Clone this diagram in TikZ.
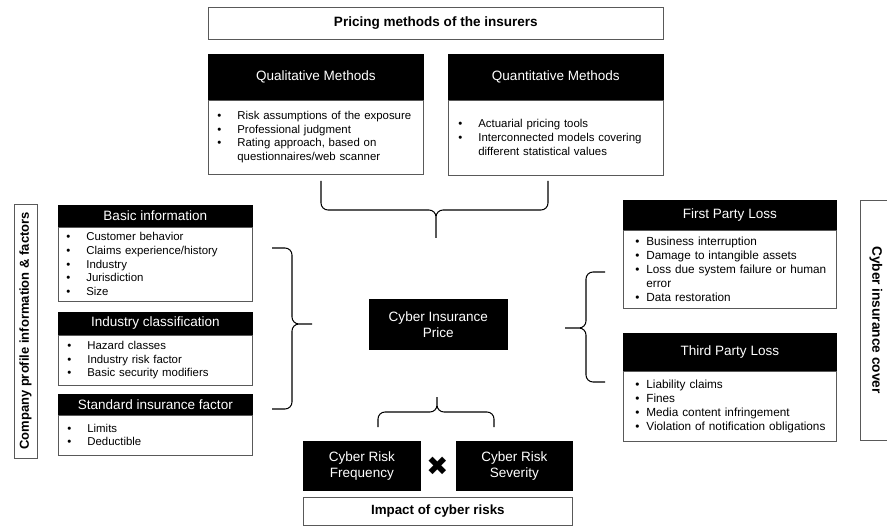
\documentclass[tikz,border=0pt]{standalone}
\usepackage{fontspec}
\setmainfont{Liberation Sans}
\newfontfamily\symfont{DejaVu Sans}
\usetikzlibrary{positioning}

\newdimen\pxu \pxu=0.02cm
\newlength\padl
\newlength\bw
\newcommand\itm{\hspace*{\padl}\makebox[\bw][l]{\textbullet}}
\newcommand\cnt{\hspace*{\padl}\hspace*{\bw}}
\newcommand\hdrfont{\fontsize{7.7}{9.2}\selectfont}
\newcommand\bodyfont{\fontsize{6.5}{7.8}\selectfont}

\begin{document}
\begin{tikzpicture}[
  x=0.02cm, y=-0.02cm,
  hdr/.style={rectangle, draw=black, fill=black, text=white, anchor=north west,
              inner sep=0pt, align=center, font=\hdrfont},
  lst/.style 2 args={rectangle, draw=black!65, fill=white, anchor=north west,
              inner sep=0pt, align=left, font=\bodyfont,
              execute at begin node={\setlength\padl{#1\pxu}\setlength\bw{#2\pxu}}},
  ttl/.style={rectangle, draw=black!65, anchor=north west, inner sep=0pt,
              font=\fontsize{7.7}{9}\selectfont\bfseries},
  side/.style={rectangle, draw=black!65, inner sep=0pt, font=\bfseries},
  brc/.style={draw=black, line width=0.6pt, rounded corners=4pt}
]
\useasboundingbox (0,0) rectangle (887,527);

% pricing methods
\node[ttl, minimum width=455\pxu, minimum height=32\pxu] (pricing) at (208,7)
  {Pricing methods of the insurers};
\node[hdr, minimum width=215\pxu, minimum height=45\pxu] (qualhd) at (208,54) {Qualitative Methods};
\node[lst={9}{20}, minimum width=215\pxu, text width=215\pxu, minimum height=74\pxu] (qualls)
  at (qualhd.south west)
  {\itm Risk assumptions of the exposure\\ \itm Professional judgment\\
   \itm Rating approach, based on\\ \cnt questionnaires/web scanner};
\node[hdr, minimum width=215\pxu, minimum height=45\pxu] (quanhd) at (448,54) {Quantitative Methods};
\node[lst={10}{20}, minimum width=215\pxu, text width=215\pxu, minimum height=75\pxu] (quanls)
  at (quanhd.south west)
  {\itm Actuarial pricing tools\\ \itm Interconnected models covering\\
   \cnt different statistical values};

% company profile
\node[side, rotate=90, minimum width=254\pxu, minimum height=23\pxu,
      font=\fontsize{7.4}{9}\selectfont\bfseries] (profile) at (25.5,331)
  {Company profile information \& factors};
\node[hdr, minimum width=194\pxu, minimum height=21\pxu] (basichd) at (58,205) {Basic information};
\node[lst={8}{20}, minimum width=194\pxu, text width=194\pxu, minimum height=74\pxu] (basicls)
  at (basichd.south west)
  {\itm Customer behavior\\ \itm Claims experience/history\\ \itm Industry\\
   \itm Jurisdiction\\ \itm Size};
\node[hdr, minimum width=194\pxu, minimum height=22\pxu] (indhd) at (58,312) {Industry classification};
\node[lst={9}{20}, minimum width=194\pxu, text width=194\pxu, minimum height=50\pxu] (indls)
  at (indhd.south west)
  {\itm Hazard classes\\ \itm Industry risk factor\\ \itm Basic security modifiers};
\node[hdr, minimum width=194\pxu, minimum height=20\pxu] (stdhd) at (58,394) {Standard insurance factor};
\node[lst={9}{20}, minimum width=194\pxu, text width=194\pxu, minimum height=40\pxu] (stdls)
  at (stdhd.south west)
  {\itm Limits\\ \itm Deductible};

% price
\node[hdr, minimum width=138\pxu, minimum height=50\pxu] (price) at (369,299)
  {Cyber Insurance\\Price};

% insurance cover
\node[hdr, minimum width=213\pxu, minimum height=29\pxu] (firsthd) at (623,200) {First Party Loss};
\node[lst={12}{11}, minimum width=213\pxu, text width=213\pxu, minimum height=78\pxu,
      font=\fontsize{6.7}{8}\selectfont] (firstls)
  at (firsthd.south west)
  {\itm Business interruption\\ \itm Damage to intangible assets\\
   \itm Loss due system failure or human\\ \cnt error\\ \itm Data restoration};
\node[hdr, minimum width=213\pxu, minimum height=37\pxu] (thirdhd) at (623,333) {Third Party Loss};
\node[lst={12}{11}, minimum width=213\pxu, text width=213\pxu, minimum height=70\pxu,
      font=\fontsize{6.7}{8}\selectfont] (thirdls)
  at (thirdhd.south west)
  {\itm Liability claims\\ \itm Fines\\ \itm Media content infringement\\
   \itm Violation of notification obligations};
\node[side, rotate=-90, minimum width=240\pxu, minimum height=32\pxu,
      font=\fontsize{7.8}{9}\selectfont\bfseries] (cover) at (876,320)
  {Cyber insurance cover};

% cyber risks
\node[hdr, minimum width=117\pxu, minimum height=49\pxu] (freq) at (303,441)
  {Cyber Risk\\Frequency};
\node[hdr, minimum width=116\pxu, minimum height=49\pxu] (sev) at (456,441)
  {Cyber Risk\\Severity};
\node[font=\symfont\fontsize{15}{15}\selectfont, inner sep=0pt] (times) at (437.5,466) {✖};
\node[ttl, minimum width=269\pxu, minimum height=28\pxu, font=\fontsize{7.6}{9}\selectfont\bfseries]
  (impact) at (303,497) {Impact of cyber risks};

% braces
\draw[brc] (321,181) |- (436,210) -- (436,238)
           (548,181) |- (436,210) -- (436,238);
\draw[brc] (272,248) -| (292,324) -- (312,324)
           (272,409) -| (292,324) -- (312,324);
\draw[brc] (605,272) -| (586,328) -- (565,328)
           (605,382) -| (586,328) -- (565,328);
\draw[brc] (378,427) |- (437,412) -- (437,397)
           (494,427) |- (437,412) -- (437,397);
\end{tikzpicture}
\end{document}
